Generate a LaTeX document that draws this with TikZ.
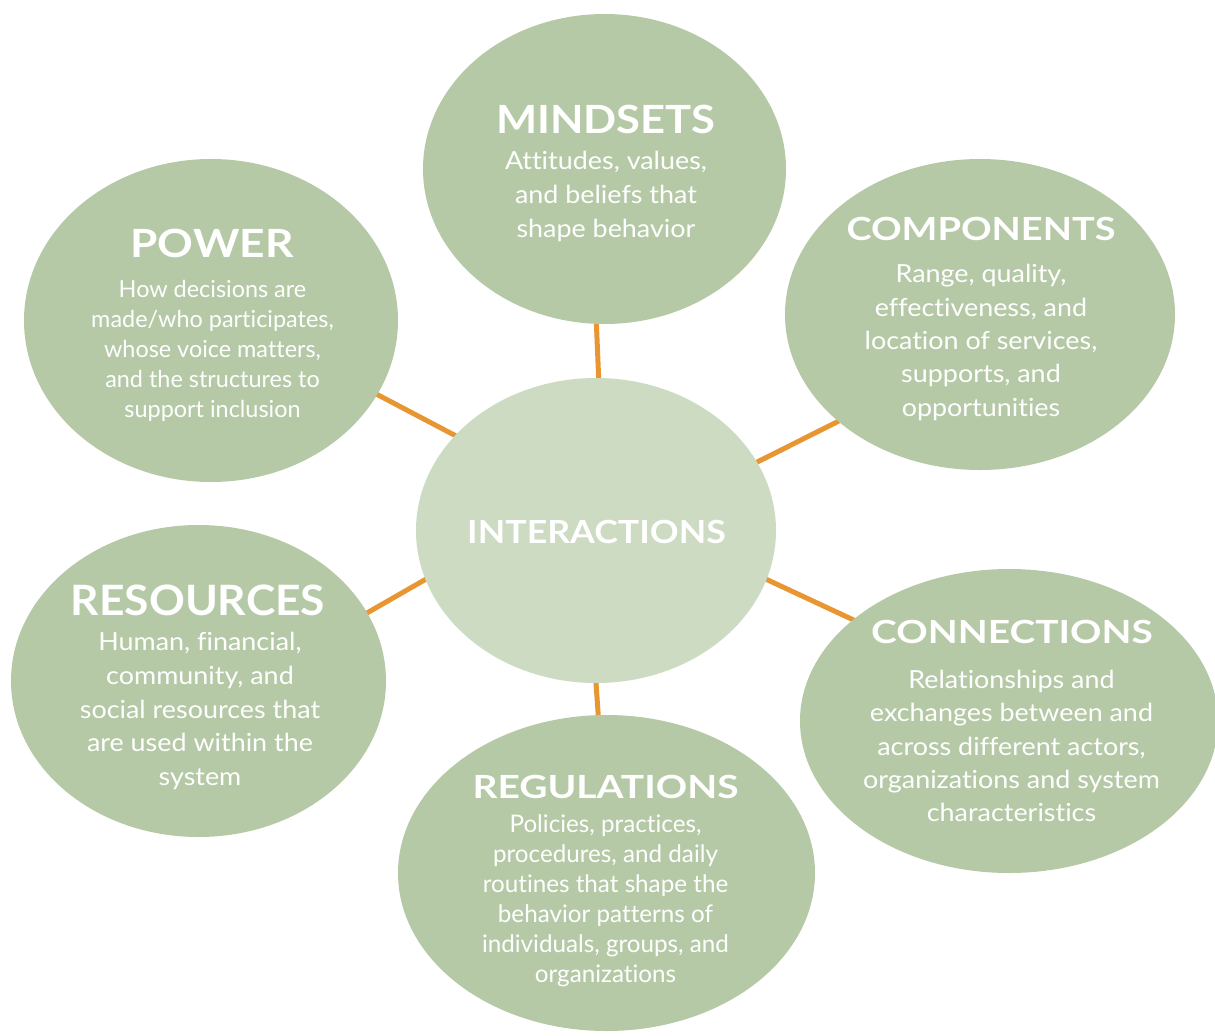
\documentclass[tikz,border=0pt]{standalone}
\usepackage{fontspec}
\setmainfont{Lato}[Ligatures=NoCommon]
\newfontfamily\bodywide{Lato}[FakeStretch=1.08,Ligatures=NoCommon]
\usetikzlibrary{shapes.geometric,backgrounds}
\definecolor{sage}{RGB}{181,201,166}
\definecolor{sagelight}{RGB}{205,219,194}
\definecolor{linkorange}{RGB}{232,150,50}
\newcommand{\wide}[2]{\scalebox{#1}[1]{#2}}
\tikzset{
  blob/.style={ellipse, fill=sage, draw=none, inner sep=0pt, outer sep=0pt},
  hubblob/.style={ellipse, fill=sagelight, draw=none, inner sep=0pt, outer sep=0pt},
  ttl/.style={text=white, inner sep=0pt, font=\bfseries\fontsize{#1}{#1}\selectfont},
  bodytext/.style 2 args={text=white, inner sep=0pt, align=center, font=\fontsize{#1}{#2}\selectfont},
  bodywidetext/.style 2 args={text=white, inner sep=0pt, align=center, font=\bodywide\fontsize{#1}{#2}\selectfont},
  link/.style={draw=linkorange, line width=5bp, shorten <=-3bp, shorten >=-3bp}
}
\begin{document}
\begin{tikzpicture}[x=1bp, y=-1bp]
\useasboundingbox (0,0) rectangle (1215,1036);
% ellipses
\node[blob, minimum width=363bp, minimum height=310bp] (mind) at (604.5,169) {};
\node[blob, minimum width=374bp, minimum height=323bp] (power) at (211,320.5) {};
\node[blob, minimum width=390bp, minimum height=311bp] (comp) at (980,314.5) {};
\node[hubblob, minimum width=360bp, minimum height=305bp] (hub) at (596,530.5) {};
\node[blob, minimum width=375bp, minimum height=312bp] (res) at (198.5,681) {};
\node[blob, minimum width=418bp, minimum height=304bp] (conn) at (1009,721) {};
\node[blob, minimum width=417bp, minimum height=316bp] (reg) at (606.5,873) {};
% connectors
\begin{scope}[on background layer]
\draw[link] (mind.267.6) -- (hub.89.2);
\draw[link] (power.-24.3) -- (hub.146.2);
\draw[link] (comp.217.3) -- (hub.23.6);
\draw[link] (res.22.4) -- (hub.196.9);
\draw[link] (conn.147.9) -- (hub.-16.1);
\draw[link] (reg.93.8) -- (hub.270);
\end{scope}
% texts
\node[ttl=39] (mindT) at (606,119) {\wide{1.12}{MINDSETS}};
\node[bodywidetext={25}{34}] (mindB) at (606,196.5) {Attitudes, values,\\and beliefs that\\shape behavior};
\node[ttl=39] (powerT) at (212,243) {\wide{1.14}{POWER}};
\node[bodytext={23.5}{30.3}] (powerB) at (212.5,351) {How decisions are\\made/who participates,\\whose voice matters,\\and the structures to\\support inclusion};
\node[ttl=32] (compT) at (981,228.5) {\wide{1.19}{COMPONENTS}};
\node[bodywidetext={25}{33.5}] (compB) at (981,342.5) {Range, quality,\\effectiveness, and\\location of services,\\supports, and\\opportunities};
\node[ttl=32] (hubT) at (596.5,531.5) {\wide{1.12}{INTERACTIONS}};
\node[ttl=42] (resT) at (198,600) {\wide{1.06}{RESOURCES}};
\node[bodywidetext={25}{34}] (resB) at (200,711) {Human, financial,\\community, and\\social resources that\\are used within the\\system};
\node[ttl=32] (connT) at (1012,631.5) {\wide{1.22}{CONNECTIONS}};
\node[bodywidetext={25}{33.3}] (connB) at (1011.5,746) {Relationships and\\exchanges between and\\across different actors,\\organizations and system\\characteristics};
\node[ttl=32] (regT) at (605.5,787) {\wide{1.22}{REGULATIONS}};
\node[bodytext={24.3}{30.2}] (regB) at (605.5,901) {Policies, practices,\\procedures, and daily\\routines that shape the\\behavior patterns of\\individuals, groups, and\\organizations};
\end{tikzpicture}
\end{document}
